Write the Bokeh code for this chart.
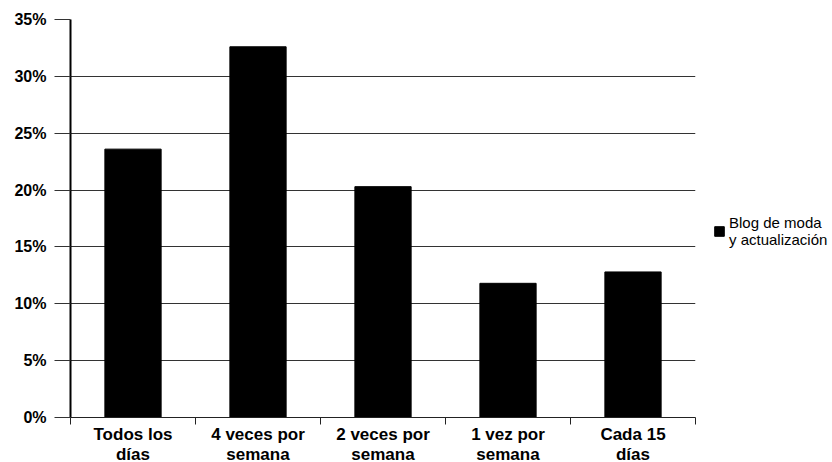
from bokeh.plotting import figure
from bokeh.models import (FactorRange, Range1d, LinearAxis, CategoricalAxis, FixedTicker,
                          NumeralTickFormatter, Legend, LegendItem, ColumnDataSource)
from bokeh.embed import file_html
from bokeh.resources import INLINE

categories = ["Todos los\ndías", "4 veces por\nsemana", "2 veces por\nsemana",
              "1 vez por\nsemana", "Cada 15\ndías"]
values = [0.236, 0.326, 0.203, 0.118, 0.128]
y_ticks = [0, 0.05, 0.10, 0.15, 0.20, 0.25, 0.30, 0.35]
series_name = "Blog de moda\ny actualización"

FONT = "Liberation Sans"
GRID = "#333333"

src = ColumnDataSource(dict(cat=categories, val=values))

p = figure(frame_width=625, frame_height=398,
           x_range=FactorRange(*categories, range_padding=0),
           y_range=Range1d(0, 0.35),
           output_backend="svg", toolbar_location=None,
           x_axis_location=None,
           min_border_left=70, min_border_top=19, min_border_right=0, min_border_bottom=0)
p.outline_line_color = None
p.xgrid.grid_line_color = None
p.ygrid.grid_line_color = GRID
p.ygrid.grid_line_width = 1
p.ygrid.ticker = FixedTicker(ticks=y_ticks)

r = p.vbar(x="cat", top="val", width=0.45, source=src, fill_color="black", line_color="black")

# y axis
p.yaxis.ticker = FixedTicker(ticks=y_ticks)
p.yaxis.formatter = NumeralTickFormatter(format="0%")
p.yaxis.major_tick_out = 16
p.yaxis.major_tick_in = 0
p.yaxis.major_tick_line_color = GRID
p.yaxis.minor_tick_line_color = None
p.yaxis.axis_line_color = "black"
p.yaxis.axis_line_width = 2
p.yaxis.major_label_standoff = 8
p.yaxis.major_label_text_font = FONT
p.yaxis.major_label_text_font_style = "bold"
p.yaxis.major_label_text_font_size = "16px"
p.yaxis.major_label_text_color = "black"

# category boundary ticks (synthetic coordinates of the factor range edges)
edges = list(range(len(categories) + 1))
edge_axis = LinearAxis(ticker=FixedTicker(ticks=edges),
                       major_tick_out=7, major_tick_in=0,
                       major_tick_line_color="#222222", major_tick_line_width=1,
                       minor_tick_line_color=None,
                       axis_line_color="#222222",
                       major_label_overrides={e: "" for e in edges},
                       major_label_standoff=0)
p.add_layout(edge_axis, "below")

cat_axis = CategoricalAxis(major_tick_line_color=None, minor_tick_line_color=None,
                           axis_line_color=None, major_label_standoff=-6,
                           major_label_text_font=FONT, major_label_text_font_style="bold",
                           major_label_text_font_size="17px", major_label_text_color="black",
                           major_label_text_line_height=1.1)
p.add_layout(cat_axis, "below")

legend = Legend(items=[LegendItem(label=series_name, renderers=[r])],
                location=(18, 169), border_line_color=None, background_fill_alpha=0,
                padding=0, margin=0, glyph_width=12, glyph_height=12, label_standoff=4,
                label_text_font=FONT, label_text_font_size="15px",
                label_text_color="black", label_text_line_height=1.13)
p.add_layout(legend, "right")

open("out.html", "w").write(file_html(p, INLINE))
